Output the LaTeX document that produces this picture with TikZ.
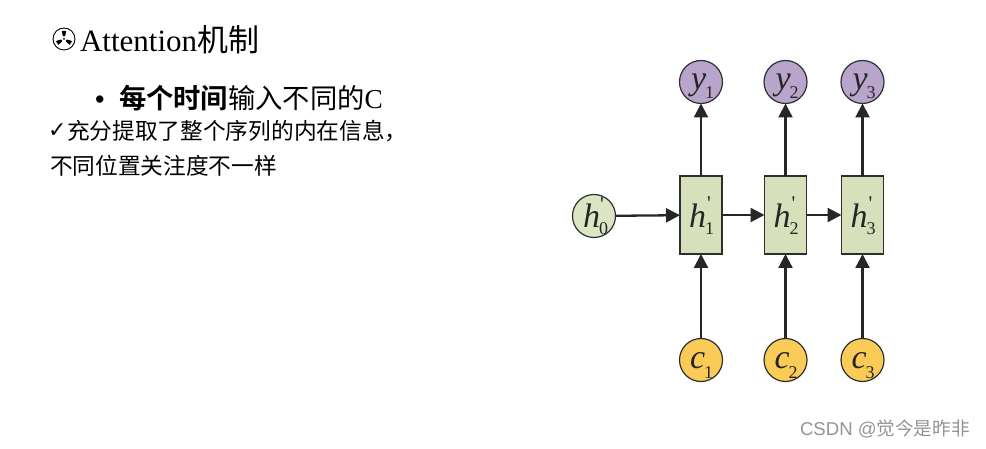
\documentclass[tikz,border=0pt]{standalone}
\usepackage{fontspec}
\usetikzlibrary{arrows.meta}
\setmainfont{Liberation Serif}
\newfontfamily\cjk{Noto Sans CJK SC}
\newfontfamily\cjkb{Noto Sans CJK SC Bold}
\newfontfamily\dv{DejaVu Sans}
\newfontfamily\lsans{Liberation Sans}
\newcommand{\lab}[6]{\hbox to 0pt{\kern#4\smash{\raisebox{#5}{\fontsize{34}{34}\selectfont\itshape #1}}\kern-1pt\smash{\raisebox{#6}{\fontsize{18}{18}\selectfont #2}}\hss}\hbox to 0pt{\kern6pt\smash{\raisebox{4pt}{\fontsize{21}{21}\selectfont #3}}\hss}}
\definecolor{hgreen}{HTML}{D6E0BA}
\definecolor{vio}{HTML}{B9A4CB}
\definecolor{gold}{HTML}{FBCB58}
\definecolor{edge}{HTML}{2E2E2E}
\tikzset{
  every node/.style={inner sep=0pt,outer sep=0pt},
  txt/.style={anchor=base west,text=black},
  circ/.style={circle,draw=edge,line width=1.2pt,minimum size=43pt,text=black!85},
  hbox/.style={rectangle,draw=edge,line width=1.2pt,fill=hgreen,minimum width=42pt,minimum height=78pt,text=black!85},
  conn/.style={draw=black!85,line width=2.3pt,-{Triangle[length=14pt,width=14pt]}},
}
\begin{document}
\begin{tikzpicture}[x=1pt,y=-1pt]
\useasboundingbox (0,0) rectangle (986,449);
% title symbol
\draw[line width=0.9pt] (64,39) circle (11);
\fill (64,39) circle (1);
\foreach \a in {90,210,330}{
  \fill[rotate around={-\a+90:(64,39)},rounded corners=0.6pt] (63,36.5) -- (65,36.5) -- (66.3,31) -- (61.7,31) -- cycle;
}
\node[txt] (title) at (80,52) {\fontsize{31}{31}\selectfont Attention{\cjk 机制}};
\node[txt] (bul) at (95,109) {\lsans\fontsize{27}{27}\selectfont •};
\node[txt] (l1) at (119,109) {\fontsize{27.3}{27.3}\selectfont{\cjkb 每个时间}{\cjk 输入不同的}C};
\node[txt] (tick) at (48,138) {\dv\fontsize{22}{22}\selectfont ✓};
\node[txt] (l2) at (67,140) {\cjk\fontsize{22.7}{22.7}\selectfont 充分提取了整个序列的内在信息，};
\node[txt] (l3) at (50,175) {\cjk\fontsize{22.7}{22.7}\selectfont 不同位置关注度不一样};
% diagram
\node[circ,fill=hgreen!85!white] (h0) at (594,216) {\lab{h}{0}{\textquotesingle}{-11pt}{-12pt}{-19pt}};
\node[hbox] (h1) at (701,215) {\lab{h}{1}{\textquotesingle}{-12pt}{-13pt}{-20pt}};
\node[hbox] (h2) at (785.5,215) {\lab{h}{2}{\textquotesingle}{-12pt}{-13pt}{-20pt}};
\node[hbox] (h3) at (862.5,215) {\lab{h}{3}{\textquotesingle}{-12pt}{-13pt}{-20pt}};
\node[circ,fill=vio] (y1) at (701,82) {\lab{y}{1}{}{-10pt}{-8pt}{-17pt}};
\node[circ,fill=vio] (y2) at (785.5,82) {\lab{y}{2}{}{-10pt}{-8pt}{-17pt}};
\node[circ,fill=vio] (y3) at (862.5,82) {\lab{y}{3}{}{-10pt}{-8pt}{-17pt}};
\node[circ,fill=gold] (c1) at (701,360) {\lab{c}{1}{}{-11pt}{-8pt}{-18pt}};
\node[circ,fill=gold] (c2) at (785.5,360) {\lab{c}{2}{}{-11pt}{-8pt}{-18pt}};
\node[circ,fill=gold] (c3) at (862.5,360) {\lab{c}{3}{}{-11pt}{-8pt}{-18pt}};
\foreach \i in {1,2,3}{
  \draw[conn] (h\i) -- (y\i);
  \draw[conn] (c\i) -- (h\i);
}
\draw[conn] (h0) -- (h1);
\draw[conn] (h1) -- (h2);
\draw[conn] (h2) -- (h3);
\node[anchor=base west,text=black!42] (wm) at (800,435) {\fontsize{18.6}{18.6}\selectfont{\lsans CSDN @}{\cjk 觉今是昨非}};
\end{tikzpicture}
\end{document}
